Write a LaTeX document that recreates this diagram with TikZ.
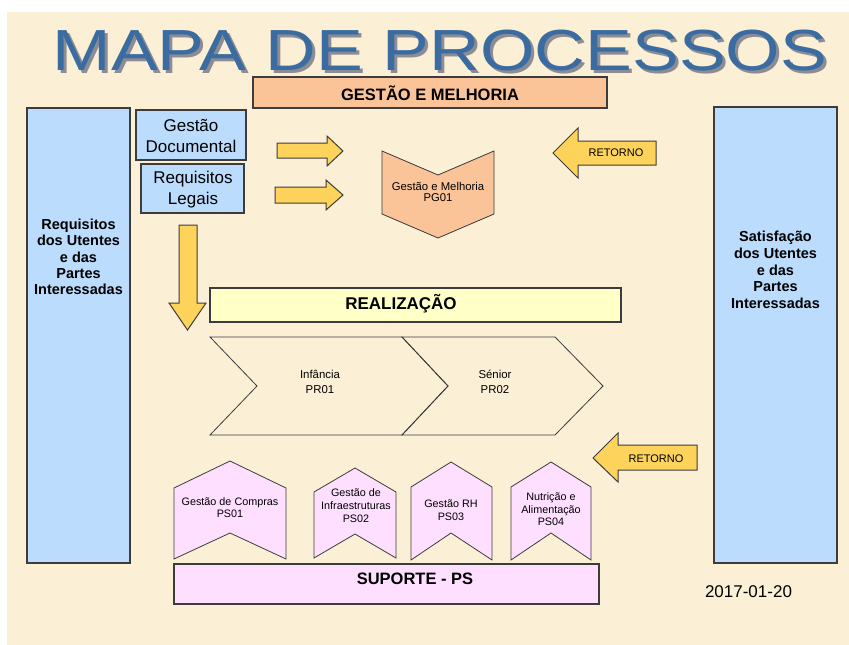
\documentclass[tikz,border=0pt]{standalone}
\usepackage{fontspec}
\setmainfont{Liberation Sans}
\usetikzlibrary{calc}
\definecolor{bgbeige}{RGB}{251,239,214}
\definecolor{lblue}{RGB}{187,220,252}
\definecolor{peach}{RGB}{250,196,152}
\definecolor{lyellow}{RGB}{255,255,200}
\definecolor{lpink}{RGB}{255,223,255}
\definecolor{gold}{RGB}{253,211,92}
\definecolor{edgegray}{RGB}{60,60,60}
\definecolor{titleblue}{RGB}{58,108,162}
\definecolor{titleshade}{RGB}{140,140,148}
\tikzset{
  boxshape/.style={draw=edgegray, line width=1.1pt},
  thinshape/.style={draw=edgegray, line width=0.8pt},
  blockarrow/.style={fill=gold, draw=edgegray, line width=1pt, line join=miter},
  lbl/.style={inner sep=0pt, align=center, text=black},
}
\newcommand{\fs}[2]{\fontsize{#1}{#2}\selectfont}
\newcommand{\shadowed}[1]{\makebox[0pt][l]{\hspace{2.5pt}\raisebox{-3pt}{\textcolor{titleshade}{#1}}}\textcolor{titleblue}{#1}}
\begin{document}
\begin{tikzpicture}[x=1pt,y=-1pt]
\useasboundingbox (0,0) rectangle (849,645);
\fill[white] (0,0) rectangle (849,645);
\fill[bgbeige] (7,12) rectangle (849,645);

% title
\node[lbl, anchor=base, xscale=1.21, font=\fs{58}{58}] (title) at (440,70) {\shadowed{MAPA DE PROCESSOS}};

% Gestao e melhoria header
\draw[boxshape, fill=peach] (253,77) rectangle (607,108);
\node[lbl, font=\bfseries\fs{16.5}{18}] (gmt) at (430,93) {GESTÃO E MELHORIA};

% side boxes
\draw[boxshape, fill=lblue] (27,108) rectangle (130,563);
\node[lbl, font=\bfseries\fs{14.5}{16.3}] (req) at (78.5,257) {Requisitos\\dos Utentes\\e das\\Partes\\Interessadas};
\draw[boxshape, fill=lblue] (714,107) rectangle (837,563);
\node[lbl, font=\bfseries\fs{14.5}{16.8}] (sat) at (775.5,270) {Satisfação\\dos Utentes\\e das\\Partes\\Interessadas};

% small blue boxes
\draw[boxshape, fill=lblue] (136,110) rectangle (246,160);
\node[lbl, font=\fs{17}{21}] (gd) at (191,136) {Gestão\\Documental};
\draw[boxshape, fill=lblue] (141,164) rectangle (244,213);
\node[lbl, font=\fs{17}{21}] (rl) at (193,190) {Requisitos\\Legais};

% yellow arrows
\draw[blockarrow] (277,143) -- (327,143) -- (327,136) -- (343,151) -- (327,166) -- (327,158) -- (277,158) -- cycle;
\draw[blockarrow] (275,187) -- (326,187) -- (326,180) -- (343,195) -- (326,210) -- (326,203) -- (275,203) -- cycle;
\draw[blockarrow] (179,225) -- (197,225) -- (197,303) -- (206,303) -- (187.5,330) -- (169,303) -- (179,303) -- cycle;

% PG01
\draw[thinshape, fill=peach] (382,151) -- (438,175) -- (494,151) -- (494,214) -- (438,238) -- (382,214) -- cycle;
\node[lbl, font=\fs{11.3}{11.5}] (pg01) at (438,192) {Gestão e Melhoria\\PG01};

% RETORNO arrows
\draw[blockarrow] (553,153) -- (578,128) -- (578,141) -- (656,141) -- (656,165) -- (578,165) -- (578,178) -- cycle;
\node[lbl, font=\fs{11}{12}] (ret1) at (616,153) {RETORNO};
\draw[blockarrow] (593,458) -- (618,433) -- (618,445) -- (697,445) -- (697,470) -- (618,470) -- (618,482) -- cycle;
\node[lbl, font=\fs{11}{12}] (ret2) at (656,459) {RETORNO};

% Realizacao
\draw[boxshape, fill=lyellow] (210,288) rectangle (621,322);
\node[lbl, font=\bfseries\fs{17}{18}] (real) at (401,304) {REALIZAÇÃO};

\draw[thinshape] (210,337) -- (402,337) -- (448,386) -- (402,435) -- (210,435) -- (257,386) -- cycle;
\draw[thinshape] (402,337) -- (555,337) -- (603,386) -- (555,435) -- (402,435) -- (448,386) -- cycle;
\node[lbl, font=\fs{11.4}{14.5}] (pr01) at (320,382) {Infância\\PR01};
\node[lbl, font=\fs{11.4}{14.5}] (pr02) at (495,382) {Sénior\\PR02};

% support
\draw[thinshape, fill=lpink] (174,488) -- (230,461) -- (286,488) -- (286,559) -- (230,533) -- (174,559) -- cycle;
\node[lbl, font=\fs{10.8}{11.5}] (ps01) at (230,507.5) {Gestão de Compras\\PS01};
\draw[thinshape, fill=lpink] (314,492) -- (355,468) -- (396,492) -- (396,558) -- (355,534) -- (314,558) -- cycle;
\node[lbl, font=\fs{10.8}{13}] (ps02) at (356,506) {Gestão de\\Infraestruturas\\PS02};
\draw[thinshape, fill=lpink] (411,487) -- (451,462) -- (492,487) -- (492,560) -- (451,533) -- (411,560) -- cycle;
\node[lbl, font=\fs{10.8}{13}] (ps03) at (451,510.5) {Gestão RH\\PS03};
\draw[thinshape, fill=lpink] (511,487) -- (551,462) -- (591,487) -- (591,560) -- (551,533) -- (511,560) -- cycle;
\node[lbl, font=\fs{10.8}{12.5}] (ps04) at (551,509.5) {Nutrição e\\Alimentação\\PS04};

\draw[boxshape, fill=lpink] (174,564) rectangle (599,604);
\node[lbl, font=\bfseries\fs{16.5}{18}] (sup) at (415,579) {SUPORTE - PS};

\node[lbl, font=\fs{17}{18}] (date) at (748.5,592) {2017-01-20};
\end{tikzpicture}
\end{document}
